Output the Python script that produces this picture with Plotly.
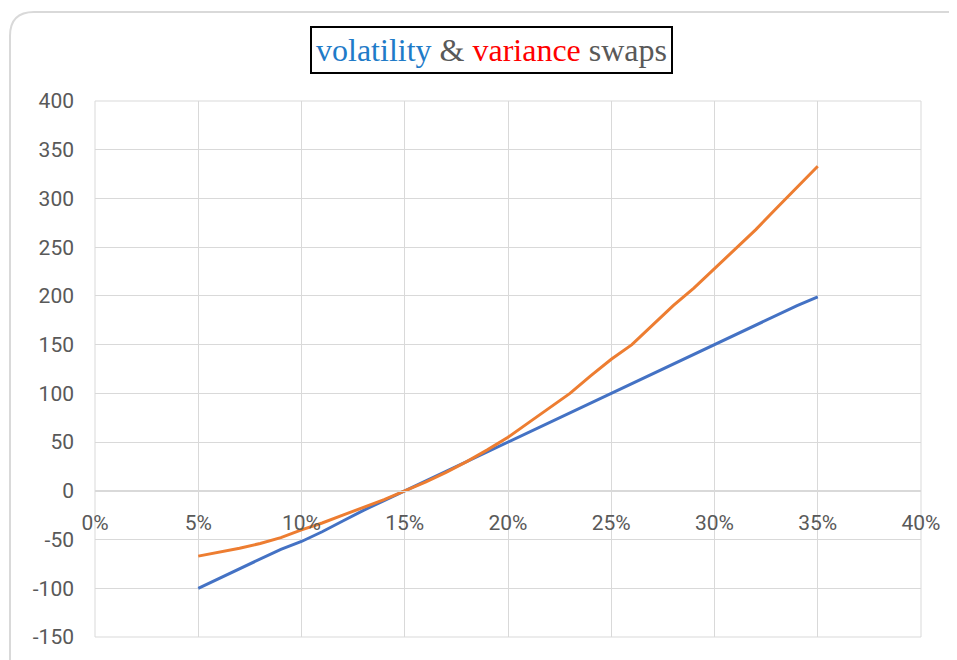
import plotly.graph_objects as go

x_vals = [0.05, 0.06, 0.07, 0.08, 0.09, 0.10, 0.11, 0.12, 0.13, 0.14, 0.15, 0.16, 0.17, 0.18, 0.19, 0.20,
          0.21, 0.22, 0.23, 0.24, 0.25, 0.26, 0.27, 0.28, 0.29, 0.30, 0.31, 0.32, 0.33, 0.34, 0.35]
vol_swap = [-100, -90, -80, -70, -60, -52, -42, -31, -20, -10, 0, 10, 20, 30, 40, 50,
            60, 70, 80, 90, 100, 110, 120, 130, 140, 150, 160, 170, 180, 190, 199]
var_swap = [-67, -63, -59, -54, -48, -40, -33, -25, -17, -9, 0, 9, 19, 30, 42, 55,
            70, 85, 100, 118, 135, 150, 170, 190, 208, 228, 248, 268, 290, 312, 333]
x_ticks = [0, 0.05, 0.10, 0.15, 0.20, 0.25, 0.30, 0.35, 0.40]
x_tick_text = ["0%", "5%", "10%", "15%", "20%", "25%", "30%", "35%", "40%"]
y_ticks = [-150, -100, -50, 0, 50, 100, 150, 200, 250, 300, 350, 400]
y_tick_text = ["-150", "-100", "-50", "0", "50", "100", "150", "200", "250", "300", "350", "400"]

W, H = 957, 660
OFF = 8  # page body margin
ml, mt = 95 - OFF, 101 - OFF
mr = W - (921 - OFF)
mb = H - (637 - OFF)
pw, ph = W - ml - mr, H - mt - mb

fig = go.Figure()
fig.add_trace(go.Scatter(x=x_vals, y=vol_swap, mode="lines", name="volatility",
                         line=dict(color="#4472c4", width=3)))
fig.add_trace(go.Scatter(x=x_vals, y=var_swap, mode="lines", name="variance",
                         line=dict(color="#ed7d31", width=3)))

ymin, ymax = -150, 400
zero_pos = (0 - ymin) / (ymax - ymin)

tick_font = dict(family="Roboto", size=21, color="#595959")

fig.update_layout(
    width=W, height=H,
    margin=dict(l=ml, r=mr, t=mt, b=mb),
    paper_bgcolor="white", plot_bgcolor="white",
    showlegend=False,
    xaxis=dict(range=[0, 0.40], tickvals=x_ticks, ticktext=x_tick_text,
               showgrid=True, gridcolor="#d9d9d9", gridwidth=1,
               showline=True, linecolor="#d9d9d9", linewidth=1,
               anchor="free", position=zero_pos, zeroline=False,
               tickfont=tick_font, ticks="", ticklabelstandoff=13),
    yaxis=dict(range=[ymin, ymax], tickvals=y_ticks, ticktext=y_tick_text,
               showgrid=True, gridcolor="#d9d9d9", gridwidth=1,
               zeroline=False, showline=False,
               tickfont=tick_font, ticks="", ticklabelstandoff=20),
)

fig.add_shape(type="rect", xref="paper", yref="paper", x0=0, x1=1, y0=0, y1=1,
              line=dict(color="#d9d9d9", width=1), layer="below")

# outer rounded border (coordinates in figure pixels)
def px_x(p):
    return (p - ml) / pw

def px_y(p):
    return (H - mb - p) / ph

L, T, R, B = 10 - OFF, 12 - OFF, 975, 690
r = 24
path = (f"M {px_x(L)},{px_y(B)} L {px_x(L)},{px_y(T + r)} "
        f"Q {px_x(L)},{px_y(T)} {px_x(L + r)},{px_y(T)} "
        f"L {px_x(R - r)},{px_y(T)} Q {px_x(R)},{px_y(T)} {px_x(R)},{px_y(T + r)} "
        f"L {px_x(R)},{px_y(B)}")
fig.add_shape(type="path", xref="paper", yref="paper", path=path,
              line=dict(color="#d9d9d9", width=2))

title = ('<span style="color:#1f7bc8">volatility</span>'
         '<span style="color:#595959"> &amp; </span>'
         '<span style="color:#ff0000">variance</span>'
         '<span style="color:#595959"> swaps</span>')
fig.add_annotation(text=title, xref="paper", yref="paper",
                   x=px_x(491 - OFF), y=px_y(49.5 - OFF), xanchor="center", yanchor="middle",
                   showarrow=False, font=dict(family="Liberation Serif", size=32, color="#595959"),
                   bordercolor="black", borderwidth=2, borderpad=4, bgcolor="white")

fig.write_html("out.html")
